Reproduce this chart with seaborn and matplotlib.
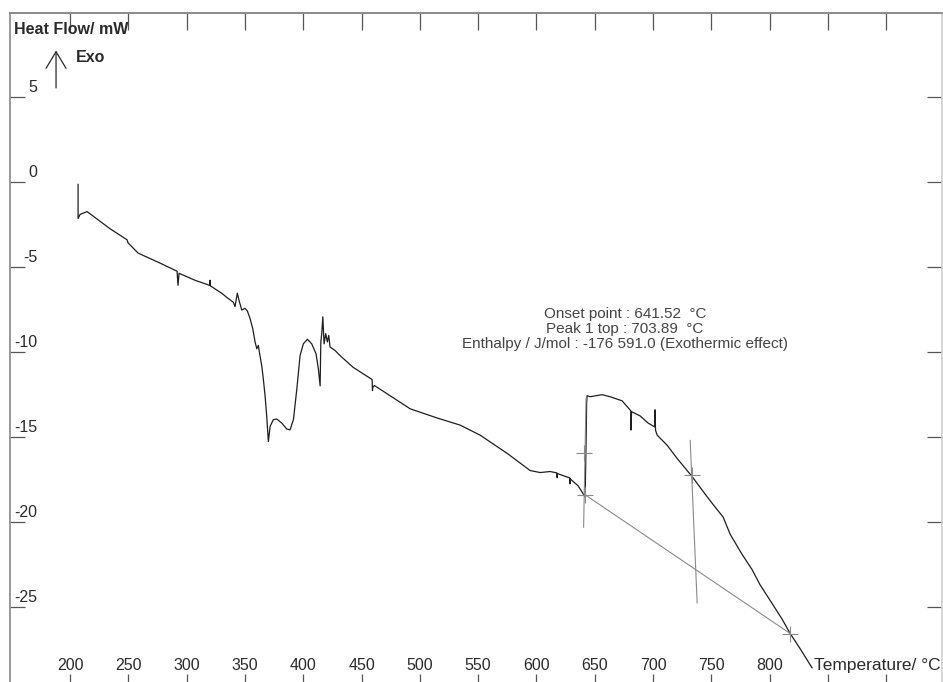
import matplotlib
matplotlib.use("Agg")
import matplotlib.pyplot as plt
import seaborn as sns
import pandas as pd

# DSC curve (temperature in degC, heat flow in mW)
temp = [206.9, 206.9, 208.6, 214.6, 234.3, 248.9, 249.8, 258.3, 277.2, 291.8,
        292.6, 293.5, 307.2, 319.8, 320.1, 320.4, 330.4, 334.7, 337.3, 340.1,
        341.5, 343.5, 345.2, 347.3, 350.1, 352.1, 354.4, 356.7, 358.7, 360.2,
        361.5, 362.4, 364.4, 365.8, 367.3, 368.7, 370.1, 371.6, 374.4, 377.3,
        381.6, 385.9, 388.7, 391.6, 394.5, 397.3, 400.1, 403.6, 407.3, 411.0,
        413.0, 414.5, 415.1, 415.9, 416.8, 417.9, 419.3, 420.7, 421.9, 423.0,
        427.3, 431.6, 442.8, 459.1, 459.4, 459.6, 461.0, 474.5, 491.7, 514.8,
        534.6, 551.7, 574.9, 594.6, 603.2, 611.8, 617.6, 617.8, 618.0, 628.7,
        628.9, 629.1, 635.8, 640.1, 641.8, 642.6, 643.1, 643.5, 646.1, 651.2,
        656.4, 663.2, 673.5, 678.7, 681.0, 681.2, 681.6, 689.0, 695.8, 701.6,
        701.8, 702.2, 703.6, 712.2, 720.7, 733.6, 746.5, 753.3, 760.2, 766.2,
        776.5, 785.1, 791.9, 803.1, 810.8, 817.7, 826.2, 836.5]
heat_flow = [-0.12, -2.14, -1.90, -1.73, -2.74, -3.39, -3.57, -4.17, -4.76, -5.24,
             -6.07, -5.36, -5.77, -6.07, -5.77, -6.10, -6.55, -6.79, -6.92, -7.07,
             -7.32, -6.53, -7.02, -7.52, -7.42, -7.58, -8.02, -8.61, -9.40, -9.80,
             -9.60, -10.00, -10.79, -11.59, -12.58, -13.77, -15.26, -14.36, -13.97, -13.93,
             -14.17, -14.52, -14.57, -13.97, -12.18, -10.20, -9.51, -9.24, -9.51, -10.10,
             -10.99, -11.98, -9.40, -8.91, -7.92, -9.51, -8.91, -9.40, -9.01, -9.70,
             -9.90, -10.20, -10.89, -11.61, -12.26, -12.08, -11.96, -12.56, -13.33, -13.87,
             -14.29, -14.88, -15.95, -16.96, -17.08, -17.02, -17.10, -17.38, -17.14, -17.40,
             -17.74, -17.46, -17.86, -18.33, -18.51, -15.36, -12.98, -12.56, -12.62, -12.56,
             -12.50, -12.62, -12.86, -13.27, -13.45, -14.58, -13.50, -13.75, -14.17, -14.40,
             -13.39, -14.60, -14.88, -15.48, -16.25, -17.32, -18.51, -19.11, -19.70, -20.71,
             -21.90, -22.80, -23.69, -24.88, -25.71, -26.55, -27.44, -28.57]

# evaluation construction lines
baseline_t = [641.8, 817.7]
baseline_hf = [-18.39, -26.55]
onset_tangent_t = [640.5, 642.6]
onset_tangent_hf = [-20.3, -12.7]
peak_line_t = [731.9, 737.9]
peak_line_hf = [-15.18, -24.76]
cross_t = [641.8, 640.9, 733.6, 817.7]
cross_hf = [-18.39, -15.95, -17.20, -26.55]

x_ticks = [200, 250, 300, 350, 400, 450, 500, 550, 600, 650, 700, 750, 800, 850, 900]
x_labels = ["200", "250", "300", "350", "400", "450", "500", "550", "600", "650",
            "700", "750", "800", "", ""]
y_ticks = [5, 0, -5, -10, -15, -20, -25]
y_labels = ["5", "0", "-5", "-10", "-15", "-20", "-25"]

sns.set_theme(style="white")
plt.rcParams["font.family"] = ["Liberation Sans", "DejaVu Sans"]

fig = plt.figure(figsize=(9.43, 6.82), dpi=100)
ax = fig.add_axes([10 / 943, 0, 932 / 943, 669 / 682])

df = pd.DataFrame({"T": temp, "HF": heat_flow})
sns.lineplot(data=df, x="T", y="HF", sort=False, estimator=None,
             color="#1e1e1e", linewidth=0.9, ax=ax)
sns.lineplot(x=baseline_t, y=baseline_hf, sort=False, estimator=None,
             color="#8a8a8a", linewidth=0.8, ax=ax)
sns.lineplot(x=onset_tangent_t, y=onset_tangent_hf, sort=False, estimator=None,
             color="#8a8a8a", linewidth=0.8, ax=ax)
sns.lineplot(x=peak_line_t, y=peak_line_hf, sort=False, estimator=None,
             color="#8a8a8a", linewidth=0.8, ax=ax)
ax.plot(cross_t, cross_hf, linestyle="none", marker="+", markersize=12,
        markeredgewidth=0.8, color="#8a8a8a")

ax.set_xlim(148.5, 947.9)
ax.set_ylim(-29.4, 9.95)
ax.set_xlabel("")
ax.set_ylabel("")

# ticks: all inward, labels drawn inside the frame
ax.set_xticks(x_ticks)
ax.set_yticks(y_ticks)
ax.set_xticklabels([])
ax.set_yticklabels([])
ax.tick_params(axis="x", direction="in", length=6, width=0.9, color="#555555", bottom=True)
ax.tick_params(axis="y", direction="in", length=11, width=0.9, color="#555555",
               left=True, right=True)
top = ax.secondary_xaxis("top")
top.set_xticks(x_ticks)
top.set_xticklabels([])
top.tick_params(direction="in", length=12, width=0.9, color="#555555")
top.spines["top"].set_color("#8c8c8c")

for t, lab in zip(x_ticks, x_labels):
    ax.text(t, 0.025, lab, transform=ax.get_xaxis_transform(), ha="center", va="center",
            fontsize=11.5, color="#2a2a2a")
for v, lab in zip(y_ticks, y_labels):
    ax.text(0.029, v + 0.55, lab, transform=ax.get_yaxis_transform(), ha="right",
            va="center", fontsize=11.5, color="#2a2a2a")

ax.spines["bottom"].set_visible(False)
ax.spines["left"].set_color("#8c8c8c")
ax.spines["top"].set_color("#8c8c8c")
ax.spines["right"].set_color("#d0d0d0")

ax.text(0.0043, 0.9755, "Heat Flow/ mW", transform=ax.transAxes, ha="left", va="center",
        fontsize=11.5, fontweight="bold", color="#2a2a2a")
ax.text(0.071, 0.9342, "Exo", transform=ax.transAxes, ha="left", va="center",
        fontsize=11.5, fontweight="bold", color="#2a2a2a")
ax.annotate("", xy=(0.0494, 0.944), xytext=(0.0494, 0.888), xycoords="axes fraction",
            arrowprops=dict(arrowstyle="->,head_length=1.0,head_width=0.6", lw=0.9,
                            color="#2a2a2a", shrinkA=0, shrinkB=0))
ax.text(0.863, 0.0254, "Temperature/ °C", transform=ax.transAxes, ha="left", va="center",
        fontsize=12.5, color="#2a2a2a")

ax.text(676, -8.63, "Onset point : 641.52  °C\nPeak 1 top : 703.89  °C\n"
        "Enthalpy / J/mol : -176 591.0 (Exothermic effect)",
        ha="center", va="center", fontsize=11, color="#444444", linespacing=1.12)

fig.savefig("out.png", dpi=100)
